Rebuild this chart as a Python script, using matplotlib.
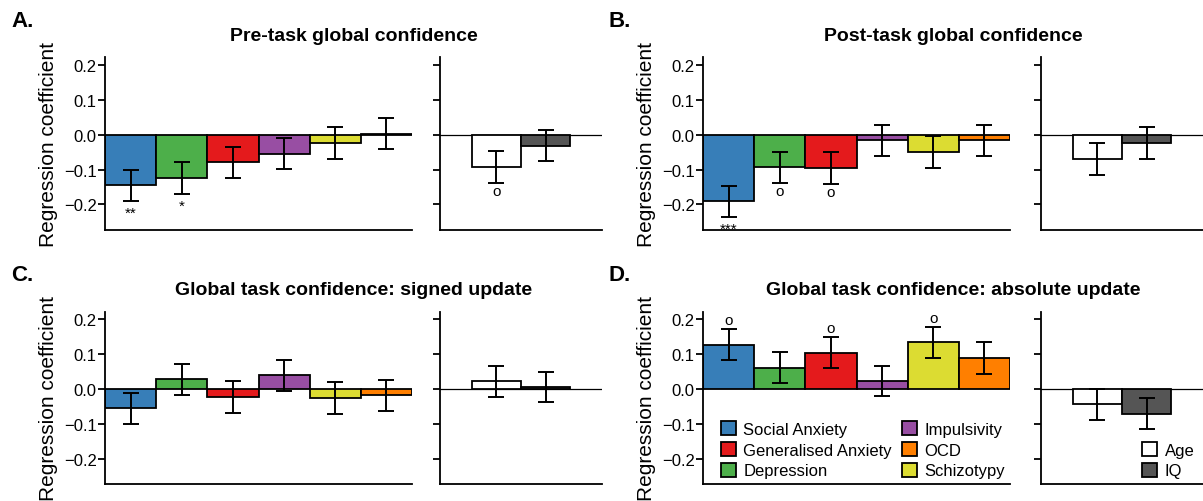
import numpy as np
import matplotlib.pyplot as plt
from matplotlib.patches import Patch

plt.rcParams['font.family'] = ['Liberation Sans', 'DejaVu Sans']

# bar order as drawn in every panel
traits = ['Social Anxiety', 'Depression', 'Generalised Anxiety',
          'Impulsivity', 'Schizotypy', 'OCD']
trait_colors = ['#377EB8', '#4DAF4A', '#E41A1C', '#984EA3', '#DCDC32', '#FF7F00']
covariates = ['Age', 'IQ']
cov_colors = ['white', '#555555']

titles = ['Pre-task global confidence',
          'Post-task global confidence',
          'Global task confidence: signed update',
          'Global task confidence: absolute update']
letters = ['A.', 'B.', 'C.', 'D.']

# regression coefficients and standard errors (traits)
trait_beta = [
    [-0.145, -0.124, -0.079, -0.054, -0.025, 0.003],
    [-0.191, -0.094, -0.096, -0.016, -0.050, -0.016],
    [-0.055, 0.028, -0.023, 0.039, -0.026, -0.018],
    [0.128, 0.061, 0.105, 0.023, 0.134, 0.089],
]
trait_se = [
    [0.045, 0.045, 0.045, 0.045, 0.046, 0.045],
    [0.045, 0.045, 0.045, 0.045, 0.045, 0.045],
    [0.045, 0.045, 0.045, 0.045, 0.045, 0.045],
    [0.045, 0.045, 0.045, 0.044, 0.045, 0.045],
]
trait_sig = [
    ['**', '*', '', '', '', ''],
    ['***', 'o', 'o', '', '', ''],
    ['', '', '', '', '', ''],
    ['o', '', 'o', '', 'o', ''],
]

# covariates
cov_beta = [
    [-0.093, -0.031],
    [-0.070, -0.024],
    [0.022, 0.006],
    [-0.044, -0.071],
]
cov_se = [
    [0.045, 0.045],
    [0.045, 0.045],
    [0.045, 0.044],
    [0.044, 0.045],
]
cov_sig = [
    ['o', ''],
    ['', ''],
    ['', ''],
    ['', ''],
]

W, H = 1203, 502
fig = plt.figure(figsize=(W / 100, H / 100), dpi=100)

# panel geometry in pixels: main-axis left, small-axis left, axis bottom
cols = [(105, 440), (703, 1041)]
rows = [230.7, 485]
main_w, small_w, ax_h = 307, 162, 172.5
ylim = (-0.273, 0.223)
lw = 1.3


def style(ax, labels=True):
    for s in ['top', 'right']:
        ax.spines[s].set_visible(False)
    for s in ['left', 'bottom']:
        ax.spines[s].set_linewidth(lw)
    ax.set_ylim(*ylim)
    ax.set_yticks([-0.2, -0.1, 0.0, 0.1, 0.2])
    if labels:
        ax.set_yticklabels(['\u22120.2', '\u22120.1', '0.0', '0.1', '0.2'])
    else:
        ax.set_yticklabels([])
    ax.tick_params(axis='y', length=5, width=lw, labelsize=12, pad=1)
    ax.set_xticks([])


def sig_marks(ax, x, beta, se, marks):
    for xi, b, e, m in zip(x, beta, se, marks):
        if not m:
            continue
        if b < 0:
            y = b - e - (0.024 if m == 'o' else 0.034)
        else:
            y = b + e + (0.026 if m == 'o' else 0.016)
        ax.text(xi, y, m, ha='center', va='center', fontsize=11)


for i in range(4):
    r, c = divmod(i, 2)
    mx, sx = cols[c]
    bottom = (H - rows[r]) / H

    ax = fig.add_axes([mx / W, bottom, main_w / W, ax_h / H])
    x = np.arange(len(traits)) + 0.5
    ax.bar(x, trait_beta[i], width=1.0, color=trait_colors,
           edgecolor='black', linewidth=lw, zorder=2)
    ax.errorbar(x, trait_beta[i], yerr=trait_se[i], fmt='none',
                ecolor='black', elinewidth=1.4, capsize=5.5, capthick=1.4, zorder=3)
    sig_marks(ax, x, trait_beta[i], trait_se[i], trait_sig[i])
    ax.set_xlim(0, 6)
    style(ax)
    ax.set_ylabel('Regression coefficient', fontsize=15, labelpad=4)

    ax2 = fig.add_axes([sx / W, bottom, small_w / W, ax_h / H])
    x2 = np.array([1.0, 2.0])
    ax2.axhline(0, color='black', linewidth=0.9, zorder=1)
    ax2.bar(x2, cov_beta[i], width=1.0, color=cov_colors,
            edgecolor='black', linewidth=lw, zorder=2)
    ax2.errorbar(x2, cov_beta[i], yerr=cov_se[i], fmt='none',
                 ecolor='black', elinewidth=1.4, capsize=5.5, capthick=1.4, zorder=3)
    sig_marks(ax2, x2, cov_beta[i], cov_se[i], cov_sig[i])
    ax2.set_xlim(-0.15, 3.15)
    style(ax2, labels=False)

    # title centred over both axes, letter at the top left
    top_px = rows[r] - ax_h
    fig.text((mx + sx + small_w) / 2 / W, 1 - (top_px - 22) / H, titles[i],
             ha='center', va='center', fontsize=14, fontweight='bold')
    fig.text((mx - 94) / W, 1 - (top_px - 37) / H, letters[i],
             ha='left', va='center', fontsize=16, fontweight='bold')

    if i == 3:
        order = [0, 2, 1, 3, 5, 4]
        handles = [Patch(facecolor=trait_colors[k], edgecolor='black', linewidth=lw,
                         label=traits[k]) for k in order]
        ax.legend(handles=handles, ncol=2, loc='lower left', bbox_to_anchor=(0.02, -0.035),
                  frameon=False, fontsize=12, handlelength=0.9, handleheight=0.9,
                  handletextpad=0.45, columnspacing=0.6, labelspacing=0.3, borderpad=0.2)
        handles2 = [Patch(facecolor=cov_colors[k], edgecolor='black', linewidth=lw,
                          label=covariates[k]) for k in range(2)]
        ax2.legend(handles=handles2, loc='lower right', bbox_to_anchor=(1.02, -0.035),
                   frameon=False, fontsize=12, handlelength=0.9, handleheight=0.9,
                   handletextpad=0.45, labelspacing=0.3, borderpad=0.2)

fig.savefig('out.png', dpi=100)
